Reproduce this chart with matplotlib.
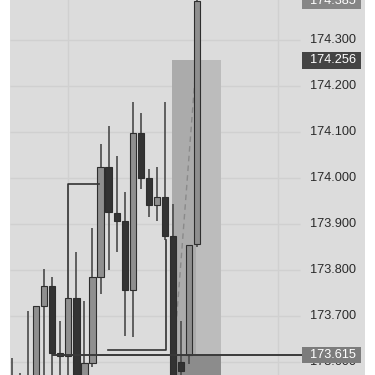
import matplotlib.pyplot as plt
from matplotlib.patches import Rectangle

plt.rcParams['font.family'] = ['Liberation Sans', 'DejaVu Sans']

# candle data, index = bar number
opens  = [173.560, 173.560, 173.550, 173.560, 173.722, 173.765, 173.620, 173.613,
          173.739, 173.550, 173.598, 173.785, 174.024, 173.924, 173.907, 173.757,
          174.098, 174.000, 173.941, 173.959, 173.874, 173.600, 173.615, 173.857]
highs  = [173.609, 173.576, 173.711, 173.722, 173.802, 173.785, 173.689, 173.739,
          173.839, 173.733, 173.891, 174.074, 174.113, 174.048, 173.970, 174.165,
          174.141, 174.020, 174.024, 174.165, 173.943, 173.689, 173.854, 174.420]
lows   = [173.540, 173.540, 173.540, 173.540, 173.550, 173.560, 173.550, 173.560,
          173.550, 173.540, 173.589, 173.748, 173.800, 173.839, 173.657, 173.654,
          173.976, 173.915, 173.907, 173.865, 173.540, 173.560, 173.596, 173.850]
closes = [173.550, 173.550, 173.565, 173.722, 173.765, 173.620, 173.613, 173.739,
          173.550, 173.598, 173.785, 174.024, 173.926, 173.907, 173.757, 174.098,
          174.000, 173.941, 173.959, 173.874, 173.550, 173.580, 173.854, 174.385]

tick_prices = [173.600, 173.700, 173.800, 173.900, 174.000, 174.100, 174.200, 174.300]

last_price = 173.615
target_price = 174.256
top_price = 174.385

# drawn L-shaped lines (bar index, price)
line_a_x = [7, 7, 10.8]
line_a_y = [173.739, 173.987, 173.987]
line_b_x = [19.1, 19.1, 11.9]
line_b_y = [173.865, 173.626, 173.626]

# position tool
pos_left, pos_right, pos_mid = 19.9, 26.0, 22.9
stop_price = 173.50

ymin, ymax = 173.572, 174.387
bg = '#dcdcdc'

fig = plt.figure(figsize=(3.75, 3.75), dpi=100, facecolor='white')
ax = fig.add_axes([10 / 375, 0, 355 / 375, 1])
ax.set_facecolor(bg)
ax.set_xlim(-0.248, 43.85)
ax.set_ylim(ymin, ymax)
for s in ax.spines.values():
    s.set_visible(False)
ax.set_xticks([])
ax.set_yticks([])

# grid
for p in tick_prices:
    ax.hlines(p, -0.248, 35.8, color='#d0d0d0', lw=1, zorder=0)
for gx in [7, 33]:
    ax.axvline(gx, color='#d0d0d0', lw=1, zorder=0)

# position tool boxes
ax.add_patch(Rectangle((pos_left, last_price), pos_right - pos_left, target_price - last_price,
                       facecolor='#bcbcbc', edgecolor='none', zorder=1))
ax.add_patch(Rectangle((pos_left, last_price), pos_mid - pos_left, target_price - last_price,
                       facecolor='#ababab', edgecolor='none', zorder=1))
ax.add_patch(Rectangle((pos_left, stop_price), pos_right - pos_left, last_price - stop_price,
                       facecolor='#8c8c8c', edgecolor='none', zorder=1))
ax.plot([20.1, 22.9], [last_price, target_price], color='#8a8a8a', lw=1, ls=(0, (4, 3)), zorder=2)

# candles
w = 0.78
for i in range(len(opens)):
    o, h, l, c = opens[i], highs[i], lows[i], closes[i]
    up = c >= o
    ax.vlines(i, l, h, color='#4a4a4a', lw=1.2, zorder=3)
    ax.add_patch(Rectangle((i - w / 2, min(o, c)), w, max(abs(c - o), 0.004),
                           facecolor='#8f8f8f' if up else '#333333',
                           edgecolor='#2e2e2e', lw=0.8, zorder=4))

# drawings
ax.plot(line_a_x, line_a_y, color='#333333', lw=1.2, zorder=5)
ax.plot(line_b_x, line_b_y, color='#333333', lw=1.2, zorder=5)
ax.hlines(last_price, 5, 36.0, color='#3a3a3a', lw=1.4, zorder=5)

# price labels
lab_x = 37.0
for p in tick_prices:
    ax.text(lab_x, p, f'{p:.3f}', ha='left', va='center', fontsize=9.2, color='#2a2a2a', zorder=6)

box_h = 0.036
for p, col in [(target_price, '#444444'), (last_price, '#7c7c7c'), (top_price, '#868686')]:
    ax.add_patch(Rectangle((36.0, p - box_h / 2), 7.35, box_h, facecolor=col,
                           edgecolor='none', zorder=7, clip_on=False))
    ax.text(lab_x, p, f'{p:.3f}', ha='left', va='center', fontsize=9.2, color='white', zorder=8)

fig.savefig('out.png', dpi=100, facecolor='white')
